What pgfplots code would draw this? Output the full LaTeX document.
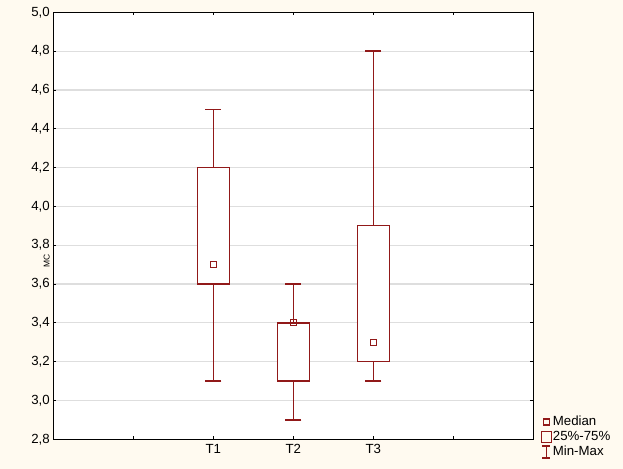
\documentclass[border=0pt]{standalone}
\usepackage{pgfplots}
\pgfplotsset{compat=1.18}
\usepackage{fontspec}
\setmainfont{Liberation Sans}
\definecolor{bgcream}{RGB}{255,250,240}
\definecolor{mred}{RGB}{145,25,25}
\definecolor{gridgray}{RGB}{222,222,222}
\begin{document}
\begin{tikzpicture}
\fill[bgcream] (0bp,0bp) rectangle (623bp,469bp);
\path[use as bounding box] (0bp,0bp) rectangle (623bp,469bp);
\begin{axis}[
  at={(53.3bp,29.7bp)}, anchor=south west,
  scale only axis, width=480bp, height=427bp,
  axis background/.style={fill=white},
  xmin=-1, xmax=5, ymin=2.8, ymax=5.0,
  xtick={0,1,2,3,4}, xticklabels={,T1,T2,T3,},
  ytick={2.8,3.0,3.2,3.4,3.6,3.8,4.0,4.2,4.4,4.6,4.8,5.0},
  yticklabel style={/pgf/number format/.cd, use comma, fixed, fixed zerofill, precision=1},
  /pgf/number format/assume math mode=true,
  ymajorgrids, major grid style={gridgray, line width=1.2bp},
  tick align=inside, major tick length=3bp, tick style={black, line width=0.8bp},
  axis line style={black, line width=1.1bp},
  ticklabel style={font=\fontsize{13.3}{15}\selectfont},
  xticklabel style={yshift=-1.5bp},
  ylabel={MC},
  ylabel style={font=\fontsize{8.5}{10}\selectfont, at={(axis description cs:0,0.5)}, anchor=south, xshift=-35bp},
  legend style={draw=none, fill=none, at={(rel axis cs:1.016,0.0585)}, anchor=north west,
    inner sep=0pt, row sep=0pt, font=\fontsize{13.3}{15}\selectfont,
    nodes={inner sep=1bp, text height=10bp, text depth=3bp}},
  legend cell align=left,
]
\addlegendimage{legend image code/.code={\draw[draw=mred, line width=1.2bp] (1.5bp,-3bp) rectangle (7.5bp,3bp);}}
\addlegendentry{Median}
\addlegendimage{legend image code/.code={\draw[draw=mred, line width=1.2bp] (0bp,-5.5bp) rectangle (9.5bp,5.5bp);}}
\addlegendentry{25\%-75\%}
\addlegendimage{legend image code/.code={\draw[draw=mred, line width=1.2bp] (0.5bp,-6bp) -- (8.5bp,-6bp) (4.5bp,-6bp) -- (4.5bp,6bp) (0.5bp,6bp) -- (8.5bp,6bp);}}
\addlegendentry{Min-Max}
% whiskers: min to max, centred at lower quartile
\addplot[draw=none, mark=none,
  error bars/.cd, y dir=both, y explicit,
  error bar style={draw=mred, line width=1.4bp},
  error mark=-, error mark options={draw=mred, line width=1.4bp, mark size=8bp, rotate=90}]
  table[x=x, y=q1, y error plus=up, y error minus=down] {
x q1  up  down
1 3.6 0.9 0.5
2 3.1 0.5 0.2
3 3.2 1.6 0.1
};
% boxes: lower to upper quartile
\addplot[draw=mred, fill=white, line width=1.4bp, mark=none] coordinates {(0.8,3.6) (1.2,3.6) (1.2,4.2) (0.8,4.2) (0.8,3.6)};
\addplot[draw=mred, fill=white, line width=1.4bp, mark=none] coordinates {(1.8,3.1) (2.2,3.1) (2.2,3.4) (1.8,3.4) (1.8,3.1)};
\addplot[draw=mred, fill=white, line width=1.4bp, mark=none] coordinates {(2.8,3.2) (3.2,3.2) (3.2,3.9) (2.8,3.9) (2.8,3.2)};
% medians
\addplot[only marks, mark=square, mark size=3bp, mark options={draw=mred, line width=1.2bp}] coordinates {(1,3.7) (2,3.4) (3,3.3)};
\end{axis}
\end{tikzpicture}
\end{document}
